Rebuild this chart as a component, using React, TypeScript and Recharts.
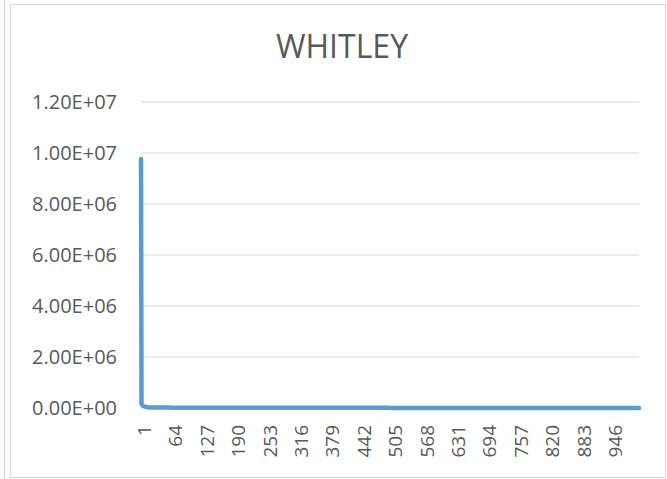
import React from 'react';
import { LineChart, Line, XAxis, YAxis, CartesianGrid } from 'recharts';

// Objective value per iteration: a steep first drop, then a flat tail close to zero.
const HEAD_VALUES = [
  9760000, 170000, 130000, 105000, 90000, 78000, 68000, 60000, 54000, 48000,
  43000, 39000, 35000, 32000, 29000, 26000, 24000, 22000, 20000, 18000,
];
// [value, number of iterations] for the remaining flat stretch
const TAIL_RUNS: [number, number][] = [
  [15000, 40],
  [10000, 140],
  [6000, 300],
  [4000, 500],
];

const X_TICKS = [1, 64, 127, 190, 253, 316, 379, 442, 505, 568, 631, 694, 757, 820, 883, 946];
const Y_TICKS = [0, 2000000, 4000000, 6000000, 8000000, 10000000, 12000000];

const TITLE = 'WHITLEY';
const FONT = '"Open Sans", "Liberation Sans", sans-serif';
const TEXT = '#595959';
const GRID = '#D9D9D9';
const LINE = '#5B9BD5';

const values: number[] = [...HEAD_VALUES];
TAIL_RUNS.forEach(([v, n]) => {
  for (let i = 0; i < n; i++) values.push(v);
});
const data = values.map((value, i) => ({ step: i + 1, value }));

const sci = (v: number) => {
  const [m, e] = v.toExponential(2).split('e');
  const n = Number(e);
  return `${m}E${n < 0 ? '-' : '+'}${String(Math.abs(n)).padStart(2, '0')}`;
};

const XTick = ({ x, y, payload }: any) => {
  if (!X_TICKS.includes(Number(payload.value))) return null;
  return (
    <g transform={`translate(${x + 10},${y})`}>
      <text transform="rotate(-90)" textAnchor="end" fill={TEXT} fontSize={19} fontFamily={FONT}>
        {payload.value}
      </text>
    </g>
  );
};

export default function App() {
  return (
    <div style={{ position: 'absolute', left: 0, top: 0, width: 667, height: 479, background: '#fff' }}>
      <div style={{ position: 'absolute', left: 4, top: 0, width: 1, height: 479, background: '#D0D0D0' }} />
      <div
        style={{
          position: 'absolute',
          left: 10,
          top: 4,
          width: 654,
          height: 472,
          border: `1px solid ${GRID}`,
        }}
      />
      <svg width={667} height={80} style={{ position: 'absolute', left: 0, top: 0 }}>
        <text x={342} y={58} textAnchor="middle" fill={TEXT} fontSize={32} fontFamily={FONT}>
          {TITLE}
        </text>
      </svg>
      <LineChart
        width={667}
        height={479}
        data={data}
        margin={{ top: 102, right: 28, bottom: 31, left: 10 }}
        style={{ position: 'absolute', left: 0, top: 0 }}
      >
        <CartesianGrid vertical={false} stroke={GRID} strokeWidth={1} />
        <XAxis
          dataKey="step"
          type="category"
          height={40}
          interval={62}
          axisLine={false}
          tickLine={false}
          tickSize={0}
          tickMargin={17}
          tick={<XTick />}
        />
        <YAxis
          type="number"
          width={131}
          domain={[0, 12000000]}
          ticks={Y_TICKS}
          tickFormatter={sci}
          axisLine={false}
          tickLine={false}
          tickSize={0}
          tickMargin={24}
          tick={{ fill: TEXT, fontSize: 20, fontFamily: FONT }}
        />
        <Line
          dataKey="value"
          stroke={LINE}
          strokeWidth={4.5}
          strokeLinejoin="round"
          strokeLinecap="round"
          dot={false}
          activeDot={false}
          isAnimationActive={false}
        />
      </LineChart>
    </div>
  );
}
